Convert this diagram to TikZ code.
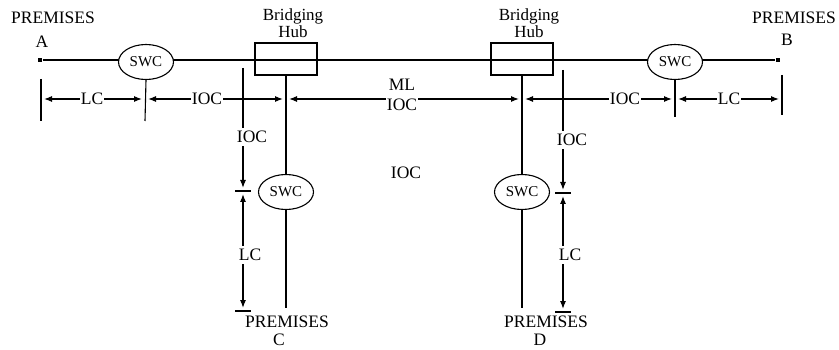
\documentclass[tikz,border=0pt]{standalone}
\usepackage{fontspec}
\setmainfont{Liberation Serif}
\usetikzlibrary{arrows.meta,shapes.geometric}

\begin{document}
\begin{tikzpicture}[x=1pt,y=-1pt,line width=1.1pt,
  swc/.style={draw,ellipse,fill=white,minimum width=55pt,minimum height=35pt,inner sep=0pt,font=\fontsize{15}{15}\selectfont},
  hub/.style={draw,rectangle,minimum width=62pt,minimum height=32pt,inner sep=0pt},
  dot/.style={fill,rectangle,minimum size=4pt,inner sep=0pt},
  lbl/.style={inner sep=0.5pt,font=\fontsize{17.5}{19}\selectfont},
  vlbl/.style={inner sep=3pt,font=\fontsize{17.5}{19}\selectfont},
  dim/.style={-{Latex[length=8pt,width=6pt]},shorten >=3pt}]
  \useasboundingbox (0,0) rectangle (839,350);

  % Premises ends and main line
  \node[dot] (premA) at (40,60) {};
  \node[dot] (premB) at (778,60) {};
  \draw (premA) -- (premB);
  \node[lbl] (premAtxt) at (53,18) {PREMISES};
  \node[lbl] (premAlet) at (42,42) {A};
  \node[lbl] (premBtxt) at (794,18) {PREMISES};
  \node[lbl] (premBlet) at (787,40) {B};

  % Bridging hubs
  \node[hub] (hubA) at (286,59) {};
  \node[hub] (hubB) at (522,59) {};
  \node[lbl,align=center,font=\fontsize{17}{17.5}\selectfont] (hubAtxt) at (293,23) {Bridging\\Hub};
  \node[lbl,align=center,font=\fontsize{17}{17.5}\selectfont] (hubBtxt) at (529,23) {Bridging\\Hub};

  % Drops to premises C and D
  \coordinate (endC) at (286,308);
  \coordinate (endD) at (522,308);
  \draw (hubA.south) -- (endC);
  \draw (hubB.south) -- (endD);
  \node[lbl] (premCtxt) at (287,322) {PREMISES};
  \node[lbl] (premClet) at (279,340) {C};
  \node[lbl] (premDtxt) at (546,322) {PREMISES};
  \node[lbl] (premDlet) at (540,340) {D};

  % Serving wire centers
  \node[swc] (swcA) at (146,62) {SWC};
  \node[swc] (swcB) at (675,62) {SWC};
  \node[swc] (swcC) at (286,192) {SWC};
  \node[swc] (swcD) at (522,192) {SWC};

  % Ticks
  \draw (41,79) -- (41,121);
  \draw (swcA.south) -- (145,121);
  \draw (swcB.south) -- (675,117);
  \draw (782,75) -- (782,115);
  \foreach \x/\y in {243/191,243/311,563/193,563/312} {
    \draw (\x-8,\y) -- (\x+8,\y);
  }

  % Horizontal dimensions
  \coordinate (tA) at (41,99);
  \coordinate (tSA) at (145,99);
  \coordinate (tHA) at (286,99);
  \coordinate (tHB) at (522,99);
  \coordinate (tSB) at (675,99);
  \coordinate (tB) at (782,99);
  \node[lbl] (lcA) at (92,99) {LC};
  \node[lbl] (iocA) at (207,99) {IOC};
  \node[lbl,align=center,font=\fontsize{17.5}{20}\selectfont] (ml) at (402,95) {ML\\IOC};
  \node[lbl] (iocB) at (625,99) {IOC};
  \node[lbl] (lcB) at (729,99) {LC};
  \draw[dim] (lcA) -- (tA);
  \draw[dim] (lcA) -- (tSA);
  \draw[dim] (iocA) -- (tSA);
  \draw[dim] (iocA) -- (tHA);
  \draw[dim] (ml.west |- tHA) -- (tHA);
  \draw[dim] (ml.east |- tHB) -- (tHB);
  \draw[dim] (iocB) -- (tHB);
  \draw[dim] (iocB) -- (tSB);
  \draw[dim] (lcB) -- (tSB);
  \draw[dim] (lcB) -- (tB);

  % Vertical dimensions
  \coordinate (topC) at (243,68);
  \coordinate (midC) at (243,191);
  \coordinate (botC) at (243,311);
  \coordinate (topD) at (563,70);
  \coordinate (midD) at (563,193);
  \coordinate (botD) at (563,312);
  \node[vlbl] (iocC) at (252,137) {IOC};
  \node[vlbl] (lcC) at (250,255) {LC};
  \node[vlbl] (iocD) at (572,140) {IOC};
  \node[vlbl] (lcD) at (570,255) {LC};
  \draw (topC) -- (topC |- iocC.north);
  \draw[dim] (iocC.south -| topC) -- (midC);
  \draw[dim] (lcC.north -| topC) -- (midC);
  \draw[dim] (lcC.south -| topC) -- (botC);
  \draw (topD) -- (topD |- iocD.north);
  \draw[dim] (iocD.south -| topD) -- (midD);
  \draw[dim] (lcD.north -| topD) -- (midD);
  \draw[dim] (lcD.south -| topD) -- (botD);

  \node[lbl] (iocMid) at (406,173) {IOC};
\end{tikzpicture}
\end{document}
